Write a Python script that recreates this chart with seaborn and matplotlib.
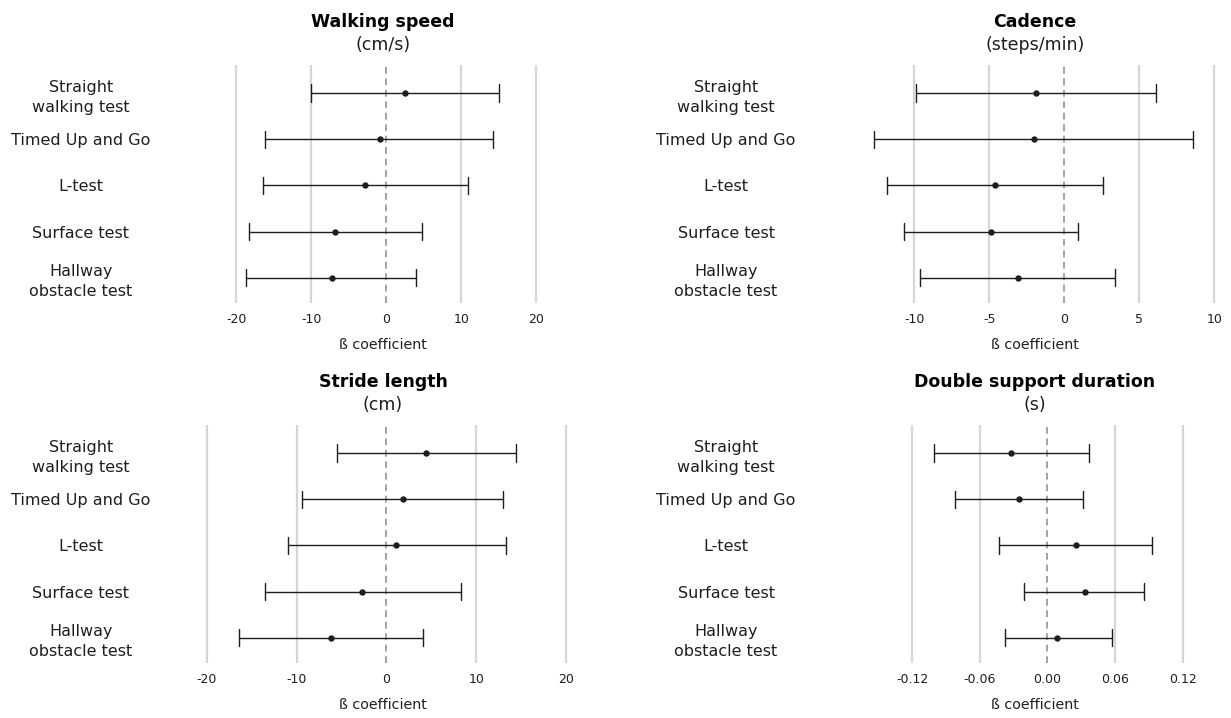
import numpy as np
import pandas as pd
import matplotlib
matplotlib.use("Agg")
import matplotlib.pyplot as plt
import seaborn as sns

# ---------------- data ----------------
tests = ["Straight\nwalking test", "Timed Up and Go", "L-test",
         "Surface test", "Hallway\nobstacle test"]

speed_est = [2.5, -0.9, -2.8, -6.8, -7.3]
speed_lo = [-10.0, -16.2, -16.4, -18.3, -18.7]
speed_hi = [15.0, 14.3, 10.9, 4.8, 4.0]

cadence_est = [-1.9, -2.0, -4.6, -4.9, -3.1]
cadence_lo = [-9.9, -12.7, -11.8, -10.7, -9.6]
cadence_hi = [6.1, 8.6, 2.6, 0.9, 3.4]

stride_est = [4.4, 1.8, 1.1, -2.7, -6.2]
stride_lo = [-5.5, -9.4, -11.0, -13.5, -16.4]
stride_hi = [14.4, 13.0, 13.3, 8.3, 4.1]

dsd_est = [-0.032, -0.025, 0.025, 0.033, 0.009]
dsd_lo = [-0.101, -0.082, -0.043, -0.021, -0.038]
dsd_hi = [0.037, 0.032, 0.093, 0.086, 0.057]

speed_ticks = [-20, -10, 0, 10, 20]
cadence_ticks = [-10, -5, 0, 5, 10]
stride_ticks = [-20, -10, 0, 10, 20]
dsd_ticks = [-0.12, -0.06, 0.0, 0.06, 0.12]
dsd_ticklabels = ["-0.12", "-0.06", "0.00", "0.06", "0.12"]

titles = ["Walking speed", "Cadence", "Stride length", "Double support duration"]
units = ["(cm/s)", "(steps/min)", "(cm)", "(s)"]
xlabel = "ß coefficient"

# ---------------- style ----------------
sns.set_theme(style="white")
plt.rcParams["font.family"] = ["DejaVu Sans"]

W, H = 1231, 718
fig = plt.figure(figsize=(W / 100, H / 100), dpi=100)


def box(l, r, t, b):
    return [l / W, 1 - b / H, (r - l) / W, (b - t) / H]


panels = [
    dict(est=speed_est, lo=speed_lo, hi=speed_hi, ticks=speed_ticks,
         labels=[str(t) for t in speed_ticks], xlim=(-25.54, 24.66),
         box=box(195, 571, 65, 303), pad=82.1),
    dict(est=cadence_est, lo=cadence_lo, hi=cadence_hi, ticks=cadence_ticks,
         labels=[str(t) for t in cadence_ticks], xlim=(-14.49, 10.58),
         box=box(847, 1223, 65, 303), pad=87.1),
    dict(est=stride_est, lo=stride_lo, hi=stride_hi, ticks=stride_ticks,
         labels=[str(t) for t in stride_ticks], xlim=(-21.31, 20.56),
         box=box(195, 571, 425, 663), pad=82.1),
    dict(est=dsd_est, lo=dsd_lo, hi=dsd_hi, ticks=dsd_ticks,
         labels=dsd_ticklabels, xlim=(-0.1778, 0.1559),
         box=box(847, 1223, 425, 663), pad=87.1),
]

ink = "#1e1e1e"
for p, title, unit in zip(panels, titles, units):
    ax = fig.add_axes(p["box"])
    vals = np.column_stack([p["lo"], p["est"], p["hi"]]).ravel()
    df = pd.DataFrame({"test": np.repeat(tests, 3), "value": vals})

    for t in p["ticks"]:
        if t != 0:
            ax.axvline(t, color="#d6d6d6", lw=1.6, zorder=0)
    ax.axvline(0, color="#8a8a8a", lw=1.1, ls=(0, (4.5, 3)), zorder=1)

    sns.pointplot(data=df, x="value", y="test", order=tests,
                  estimator="median",
                  errorbar=lambda v: (np.min(v), np.max(v)),
                  color=ink, markers="o", linestyle="none",
                  capsize=0.38, err_kws={"linewidth": 1.0, "color": ink},
                  markersize=4.6, markeredgewidth=0, ax=ax)

    ax.set_xlim(*p["xlim"])
    ax.set_ylim(4.551, -0.612)
    ax.set_xticks(p["ticks"])
    ax.set_xticklabels(p["labels"])
    ax.tick_params(axis="x", length=0, pad=7.5, labelsize=9, labelcolor=ink)
    ax.tick_params(axis="y", length=0, pad=p["pad"], labelsize=11.5,
                   labelcolor=ink)
    for lab in ax.get_yticklabels():
        lab.set_horizontalalignment("center")
        lab.set_multialignment("center")
        lab.set_linespacing(1.4)
    ax.set_ylabel("")
    ax.set_xlabel(xlabel, fontsize=10.3, labelpad=8.5, color=ink)
    ax.grid(False)
    sns.despine(ax=ax, left=True, bottom=True)

    ax.text(0.5, 1 + 43 / 238, title, transform=ax.transAxes, ha="center",
            va="center", fontsize=12.5, fontweight="bold", color="black")
    ax.text(0.5, 1 + 20 / 238, unit, transform=ax.transAxes, ha="center",
            va="center", fontsize=12.5, color=ink)

fig.savefig("out.png", dpi=100)
